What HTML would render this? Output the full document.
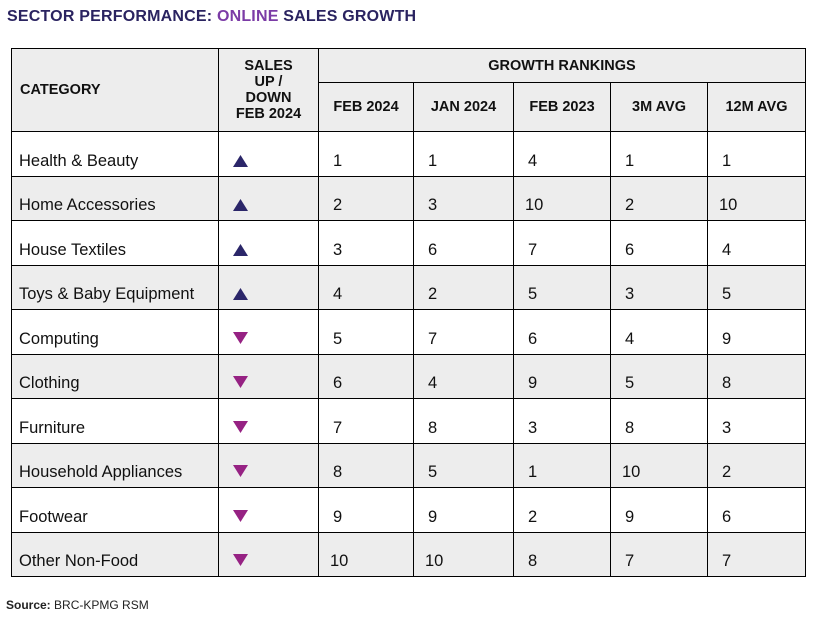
<!DOCTYPE html>
<html><head><meta charset="utf-8">
<style>
body{margin:0;width:815px;height:620px;background:#fff;position:relative;overflow:hidden;font-family:"Liberation Sans",sans-serif}
.t{position:absolute;left:7px;top:8px;font-size:16px;font-weight:bold;color:#2a2360;letter-spacing:0.2px}
.t span{color:#7b3ba6}
.c{position:absolute;box-sizing:border-box;border:1px solid #000;margin:-1px 0 0 -1px}
.h{font-weight:bold;font-size:14.5px;color:#111;display:flex;align-items:center;justify-content:center;text-align:center;line-height:16px;background:#ededed}
.d{font-size:16.5px;color:#111;padding-left:14px;display:flex;align-items:flex-end;padding-bottom:5px}
.src{position:absolute;left:6px;top:598px;font-size:12px;color:#222}
.src b{font-weight:bold}
</style></head><body>
<div class="t">SECTOR PERFORMANCE: <span>ONLINE</span> SALES GROWTH</div>
<div id="tbl"></div>
<div class="src"><b>Source:</b> BRC-KPMG RSM</div>
<script>
const categories=["Health & Beauty","Home Accessories","House Textiles","Toys & Baby Equipment","Computing","Clothing","Furniture","Household Appliances","Footwear","Other Non-Food"];
const direction=["up","up","up","up","down","down","down","down","down","down"];
const colHeaders=["FEB 2024","JAN 2024","FEB 2023","3M AVG","12M AVG"];
const feb2024=[1,2,3,4,5,6,7,8,9,10];
const jan2024=[1,3,6,2,7,4,8,5,9,10];
const feb2023=[4,10,7,5,6,9,3,1,2,8];
const avg3m=[1,2,6,3,4,5,8,10,9,7];
const avg12m=[1,10,4,5,9,8,3,2,6,7];
const series=[feb2024,jan2024,feb2023,avg3m,avg12m];
const xs=[12,219,319,414,514,611,708,806];
const top0=49,mid=83,hb=132,bot=577;
const tbl=document.getElementById('tbl');
function cell(x,y,w,h,cls,html,name){
 const d=document.createElement('div');
 d.className='c '+cls;
 d.style.left=x+'px';d.style.top=y+'px';d.style.width=(w+1)+'px';d.style.height=(h+1)+'px';
 d.innerHTML=html;
 
 
 tbl.appendChild(d);return d;
}
const c1=cell(xs[0],top0,xs[1]-xs[0],hb-top0,'h','CATEGORY','category-header');
c1.style.justifyContent='flex-start';c1.style.paddingLeft='8px';
cell(xs[1],top0,xs[2]-xs[1],hb-top0,'h','SALES<br>UP /<br>DOWN<br>FEB 2024','sales-direction-header');
cell(xs[2],top0,xs[7]-xs[2],mid-top0,'h','GROWTH RANKINGS','growth-rankings-header');
colHeaders.forEach((c,i)=>cell(xs[i+2],mid,xs[i+3]-xs[i+2],hb-mid,'h',c,'column-header'));
const rh=(bot-hb)/categories.length;
categories.forEach((cat,r)=>{
 const y=Math.round(hb+r*rh),h=Math.round(hb+(r+1)*rh)-y;
 const bg=r%2?'#ededed':'#fff';
 const a=cell(xs[0],y,xs[1]-xs[0],h,'d',cat,'category-label');a.style.background=bg;a.style.paddingLeft='7px';
 const up=direction[r]==='up';
 const tri=up?'<svg width="15" height="13"><polygon points="7.5,1 15,13 0,13" fill="#2b2669"/></svg>':'<svg width="15" height="13"><polygon points="0,0 15,0 7.5,12" fill="#962283"/></svg>';
 const b=cell(xs[1],y,xs[2]-xs[1],h,'d',tri,'direction-indicator');b.style.background=bg;b.style.paddingBottom='9px';
 series.forEach((s,i)=>{const c=cell(xs[i+2],y,xs[i+3]-xs[i+2],h,'d',String(s[r]),'rank-value');c.style.background=bg;if(s[r]>=10)c.style.paddingLeft='11px';});
});
</script>
</body></html>
